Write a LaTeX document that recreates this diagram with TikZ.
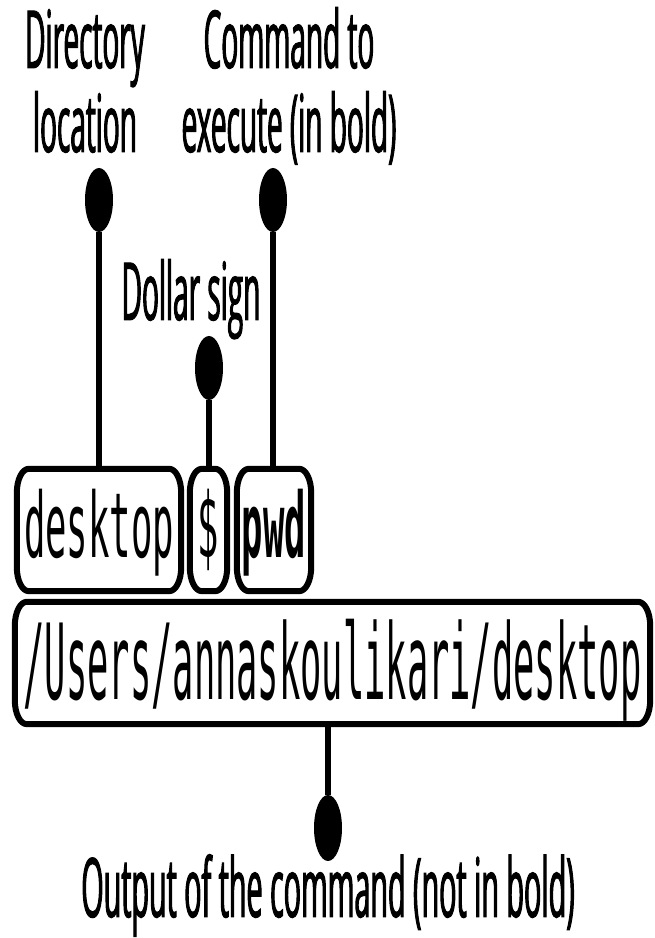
\documentclass[tikz,border=0pt]{standalone}
\usepackage{fontspec}
\usetikzlibrary{calc,shapes.geometric}
\newfontfamily\lblfont[FakeStretch=0.35,FakeBold=1.2]{Open Sans}
\newfontfamily\smallmono[FakeStretch=0.395]{DejaVu Sans Mono}
\newfontfamily\bigmono[FakeStretch=0.337]{DejaVu Sans Mono}
\def\erx{12}
\def\ery{24}
\newcommand\ebox[1]{%
  \draw[boxline] ($(#1.south west)+(\erx,0)$) -- ($(#1.south east)+(-\erx,0)$)
    arc[start angle=-90,end angle=0,x radius=\erx,y radius=\ery]
    -- ($(#1.north east)+(0,-\ery)$)
    arc[start angle=0,end angle=90,x radius=\erx,y radius=\ery]
    -- ($(#1.north west)+(\erx,0)$)
    arc[start angle=90,end angle=180,x radius=\erx,y radius=\ery]
    -- ($(#1.south west)+(0,\ery)$)
    arc[start angle=180,end angle=270,x radius=\erx,y radius=\ery]
    -- cycle;}
\begin{document}
\begin{tikzpicture}[x=1pt,y=1pt,
  lbl/.style={font=\fontsize{80}{84}\selectfont\lblfont,align=center,inner sep=0pt,anchor=base},
  dotnode/.style={ellipse,fill=black,draw=none,minimum width=28pt,minimum height=64pt,inner sep=0pt},
  conn/.style={line width=6pt},
  boxline/.style={line width=6pt,line join=round},
  smallbox/.style={rectangle,inner sep=0pt,minimum height=122pt,text height=70pt,text depth=14pt,
    font=\fontsize{90}{90}\selectfont\smallmono},
  bigbox/.style={rectangle,inner sep=0pt,minimum height=122pt,text height=82pt,text depth=8pt,
    font=\fontsize{105}{105}\selectfont\bigmono}]
\useasboundingbox (0,0) rectangle (654,938);
% boxes
\node[bigbox,minimum width=635pt] (out) at (332.5,275) {/Users/annaskoulikari/desktop};
\node[smallbox,minimum width=164pt] (desk) at (99,408) {desktop};
\node[smallbox,minimum width=37pt] (dollar) at (208.5,408) {\$};
\node[smallbox,minimum width=74pt] (pwd) at (274,408) {\bfseries pwd};
\ebox{out}
\ebox{desk}
\ebox{dollar}
\ebox{pwd}
% dots
\node[dotnode] (dirdot) at (99,738) {};
\node[dotnode] (cmddot) at (273,738) {};
\node[dotnode] (dollardot) at (209,570) {};
\node[dotnode,minimum height=66pt] (outdot) at (328,110) {};
% labels (anchor = baseline of last line)
\node[lbl] (dirlbl) at (85,786) {Directory\\location};
\node[lbl] (cmdlbl) at (289,786) {Command to\\execute (in bold)};
\node[lbl] (dollarlbl) at (191,618) {Dollar sign};
\node[lbl,font=\fontsize{82}{84}\selectfont\lblfont] (outlbl) at (328,21) {Output of the command (not in bold)};
% connectors
\draw[conn] (dirdot.south) -- (dirdot.south |- desk.north);
\draw[conn] (cmddot.south) -- (cmddot.south |- pwd.north);
\draw[conn] (dollardot.south) -- (dollardot.south |- dollar.north);
\draw[conn] (outdot.north) -- (outdot.north |- out.south);
\end{tikzpicture}
\end{document}
